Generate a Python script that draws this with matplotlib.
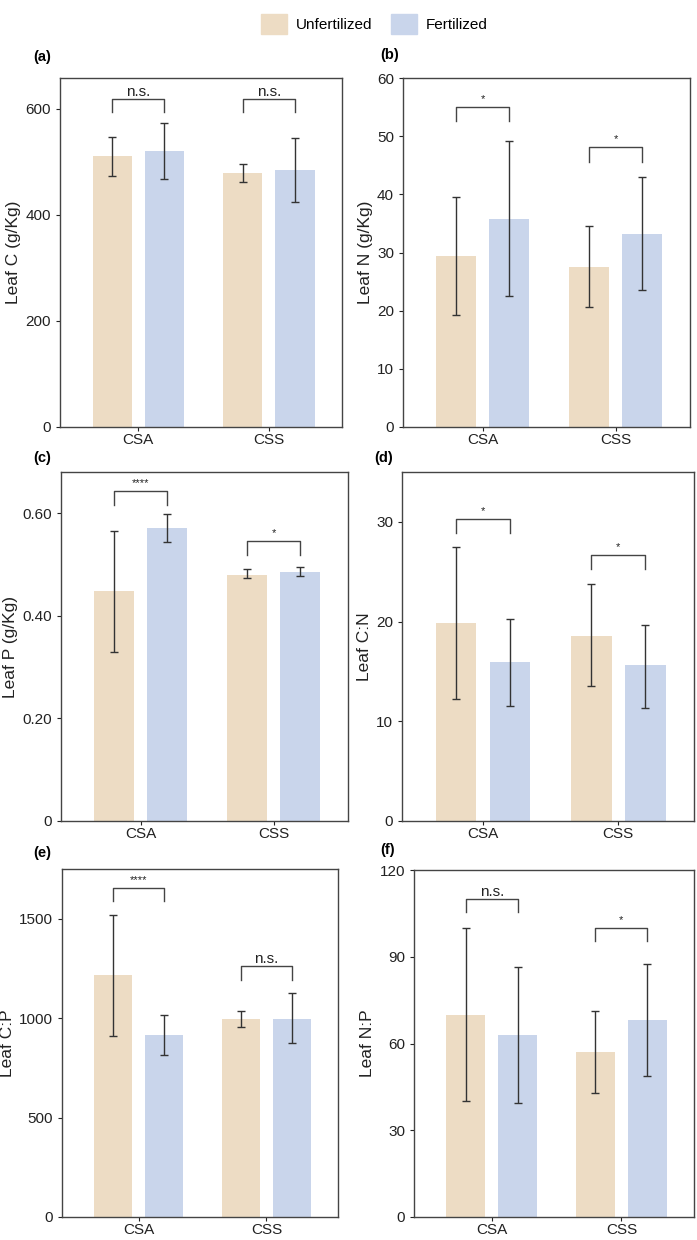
import numpy as np
import matplotlib.pyplot as plt
from matplotlib.patches import Patch

plt.rcParams['font.family'] = ['Liberation Sans', 'DejaVu Sans']

sites = ['CSA', 'CSS']
groups = ['Unfertilized', 'Fertilized']
colors = ['#EDDCC4', '#C9D5EB']

# leaf traits: means, lower and upper error bar ends, [unfert, fert] per site
c_mean = [[510, 479], [521, 485]]
c_low = [[473, 462], [468, 424]]
c_high = [[546, 495], [574, 545]]

n_mean = [[29.4, 27.5], [35.8, 33.2]]
n_low = [[19.2, 20.6], [22.5, 23.5]]
n_high = [[39.6, 34.6], [49.2, 42.9]]

p_mean = [[0.448, 0.480], [0.570, 0.485]]
p_low = [[0.330, 0.473], [0.543, 0.478]]
p_high = [[0.565, 0.491], [0.599, 0.495]]

cn_mean = [[19.9, 18.6], [15.9, 15.6]]
cn_low = [[12.2, 13.5], [11.5, 11.3]]
cn_high = [[27.5, 23.8], [20.3, 19.7]]

cp_mean = [[1215, 998], [916, 998]]
cp_low = [[909, 956], [816, 874]]
cp_high = [[1520, 1037], [1018, 1124]]

np_mean = [[69.8, 57.1], [62.9, 68.0]]
np_low = [[40.2, 43.0], [39.4, 48.6]]
np_high = [[99.8, 71.4], [86.5, 87.6]]

# significance labels per site
sig_c = ['n.s.', 'n.s.']
sig_n = ['*', '*']
sig_p = ['****', '*']
sig_cn = ['*', '*']
sig_cp = ['****', 'n.s.']
sig_np = ['n.s.', '*']

W, H = 697, 1240
fig = plt.figure(figsize=(W / 100, H / 100), dpi=100)


def add_ax(x0, x1, y0, y1):
    return fig.add_axes([x0 / W, 1 - y1 / H, (x1 - x0) / W, (y1 - y0) / H])


panels = [
    dict(box=(60, 342, 78, 427), mean=c_mean, low=c_low, high=c_high, sig=sig_c,
         br=[(619, 594), (619, 594)], ylim=658, ticks=[0, 200, 400, 600],
         tl=['0', '200', '400', '600'], ylabel='Leaf C (g/Kg)', tag='(a)', tagxy=(33, 57)),
    dict(box=(403, 690, 78, 427), mean=n_mean, low=n_low, high=n_high, sig=sig_n,
         br=[(55.0, 52.6), (48.1, 45.6)], ylim=60, ticks=[0, 10, 20, 30, 40, 50, 60],
         tl=['0', '10', '20', '30', '40', '50', '60'], ylabel='Leaf N (g/Kg)', tag='(b)', tagxy=(380, 55)),
    dict(box=(61, 348, 472, 821), mean=p_mean, low=p_low, high=p_high, sig=sig_p,
         br=[(0.643, 0.616), (0.545, 0.518)], ylim=0.68, ticks=[0, 0.2, 0.4, 0.6],
         tl=['0', '0.20', '0.40', '0.60'], ylabel='Leaf P (g/Kg)', tag='(c)', tagxy=(33, 458)),
    dict(box=(402, 694, 472, 821), mean=cn_mean, low=cn_low, high=cn_high, sig=sig_cn,
         br=[(30.3, 28.9), (26.7, 25.3)], ylim=35, ticks=[0, 10, 20, 30],
         tl=['0', '10', '20', '30'], ylabel='Leaf C:N', tag='(d)', tagxy=(374, 458)),
    dict(box=(62, 338, 869, 1217), mean=cp_mean, low=cp_low, high=cp_high, sig=sig_cp,
         br=[(1654, 1591), (1261, 1194)], ylim=1750, ticks=[0, 500, 1000, 1500],
         tl=['0', '500', '1000', '1500'], ylabel='Leaf C:P', tag='(e)', tagxy=(33, 853)),
    dict(box=(414, 694, 870, 1217), mean=np_mean, low=np_low, high=np_high, sig=sig_np,
         br=[(110, 105.5), (100, 95.4)], ylim=120, ticks=[0, 30, 60, 90, 120],
         tl=['0', '30', '60', '90', '120'], ylabel='Leaf N:P', tag='(f)', tagxy=(380, 850)),
]

x = np.arange(len(sites))
width = 0.30
offs = [-0.2, 0.2]

for p in panels:
    ax = add_ax(*p['box'])
    for g in range(2):
        m = np.array(p['mean'][g])
        lo = m - np.array(p['low'][g])
        hi = np.array(p['high'][g]) - m
        ax.bar(x + offs[g], m, width, color=colors[g])
        ax.errorbar(x + offs[g], m, yerr=[lo, hi], fmt='none', ecolor='#333333',
                    elinewidth=1, capsize=3, capthick=1)
    for i in range(len(sites)):
        top, leg = p['br'][i]
        xl, xr = x[i] + offs[0], x[i] + offs[1]
        ax.plot([xl, xl, xr, xr], [leg, top, top, leg], color='#444444', lw=1)
        lab = p['sig'][i]
        if lab == 'n.s.':
            ax.text(x[i], top, lab, ha='center', va='bottom', fontsize=11, color='#222222')
        else:
            ax.text(x[i], top + p['ylim'] * 0.008, lab, ha='center', va='bottom', fontsize=8, color='#222222')
    ax.set_xlim(-0.6, 1.56)
    ax.set_ylim(0, p['ylim'])
    ax.set_yticks(p['ticks'])
    ax.set_yticklabels(p['tl'])
    ax.set_xticks(x)
    ax.set_xticklabels(sites)
    ax.tick_params(labelsize=11, colors='#222222', length=3, width=0.8)
    ax.tick_params(axis='x', pad=1.5)
    for s in ax.spines.values():
        s.set_color('#444444')
        s.set_linewidth(1)
    ax.set_ylabel(p['ylabel'], fontsize=12.5, color='#222222', labelpad=3)
    tx, ty = p['tagxy']
    fig.text(tx / W, 1 - ty / H, p['tag'], fontsize=10.5, fontweight='bold', va='center')

handles = [Patch(color=colors[0]), Patch(color=colors[1])]
fig.legend(handles, groups, loc='upper center', bbox_to_anchor=(0.537, 1.0), ncol=2,
           frameon=False, fontsize=11, handlelength=1.7, handleheight=1.7,
           columnspacing=1.2, handletextpad=0.6)

fig.savefig('out.png', dpi=100)
